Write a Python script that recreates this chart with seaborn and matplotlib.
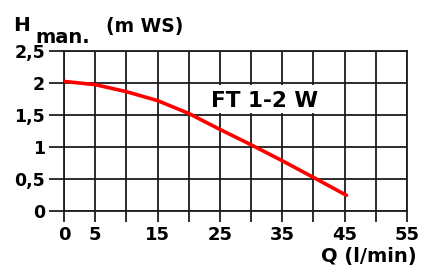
import matplotlib
matplotlib.use("Agg")
import matplotlib.pyplot as plt
import seaborn as sns
import pandas as pd
from matplotlib.patches import Rectangle

# data
flow = [0, 5, 10, 15, 20, 25, 30, 35, 40, 45.3]
head = [2.02, 1.97, 1.86, 1.72, 1.52, 1.27, 1.03, 0.78, 0.52, 0.24]
x_ticks = [0, 5, 10, 15, 20, 25, 30, 35, 40, 45, 50, 55]
x_labels = ["0", "5", "", "15", "", "25", "", "35", "", "45", "", "55"]
y_ticks = [0, 0.5, 1, 1.5, 2, 2.5]
y_labels = ["0", "0,5", "1", "1,5", "2", "2,5"]
label_text = "FT 1-2 W"

sns.set_theme(style="white")
plt.rcParams['font.family'] = ['DejaVu Sans']
plt.rcParams['font.weight'] = 'bold'
plt.rcParams['text.color'] = 'black'

W, H = 424, 268
fig = plt.figure(figsize=(W / 100, H / 100), dpi=100)
ax = fig.add_axes([64 / W, (H - 210.7) / H, (407 - 64) / W, (210.7 - 50.7) / H])

df = pd.DataFrame({"Q": flow, "H": head})
grid_c = "#1c1c1c"
lw = 1.3
ax.set_axisbelow(True)
ax.grid(True, color=grid_c, linewidth=lw)

sns.lineplot(data=df, x="Q", y="H", ax=ax, color="#ff0000", linewidth=2.6, zorder=3)

ax.add_patch(Rectangle((20.6, 1.53), 23.8, 0.44, facecolor="white", edgecolor="none", zorder=1))
ax.text(23.6, 1.62, label_text, fontsize=15.5, fontweight="bold", color="black",
        ha="left", va="baseline", zorder=4)

ax.set_xlim(0, 55)
ax.set_ylim(0, 2.5)
ax.set_xticks(x_ticks)
ax.set_xticklabels(x_labels)
ax.set_yticks(y_ticks)
ax.set_yticklabels(y_labels)
ax.tick_params(axis="x", length=8, width=lw, color=grid_c, pad=3, labelsize=13)
ax.tick_params(axis="y", length=10.8, width=lw, color=grid_c, pad=2.8, labelsize=12.5)
ax.tick_params(axis="both", direction="out", bottom=True, left=True, labelcolor="black")
for lab in ax.get_xticklabels() + ax.get_yticklabels():
    lab.set_fontweight("bold")
for s in ax.spines.values():
    s.set_color(grid_c)
    s.set_linewidth(lw)
    s.set_visible(True)
ax.set_xlabel("")
ax.set_ylabel("")

fig.text(13 / W, 1 - 31 / H, "H", fontsize=14.5, fontweight="bold", color="black", ha="left", va="baseline")
fig.text(35 / W, 1 - 43 / H, "man.", fontsize=14, fontweight="bold", color="black", ha="left", va="baseline")
fig.text(106 / W, 1 - 32 / H, "(m WS)", fontsize=13.5, fontweight="bold", color="black", ha="left", va="baseline")
fig.text(417 / W, 1 - 262 / H, "Q (l/min)", fontsize=14, fontweight="bold", color="black", ha="right", va="baseline")

fig.savefig("out.png", dpi=100, facecolor="white")
